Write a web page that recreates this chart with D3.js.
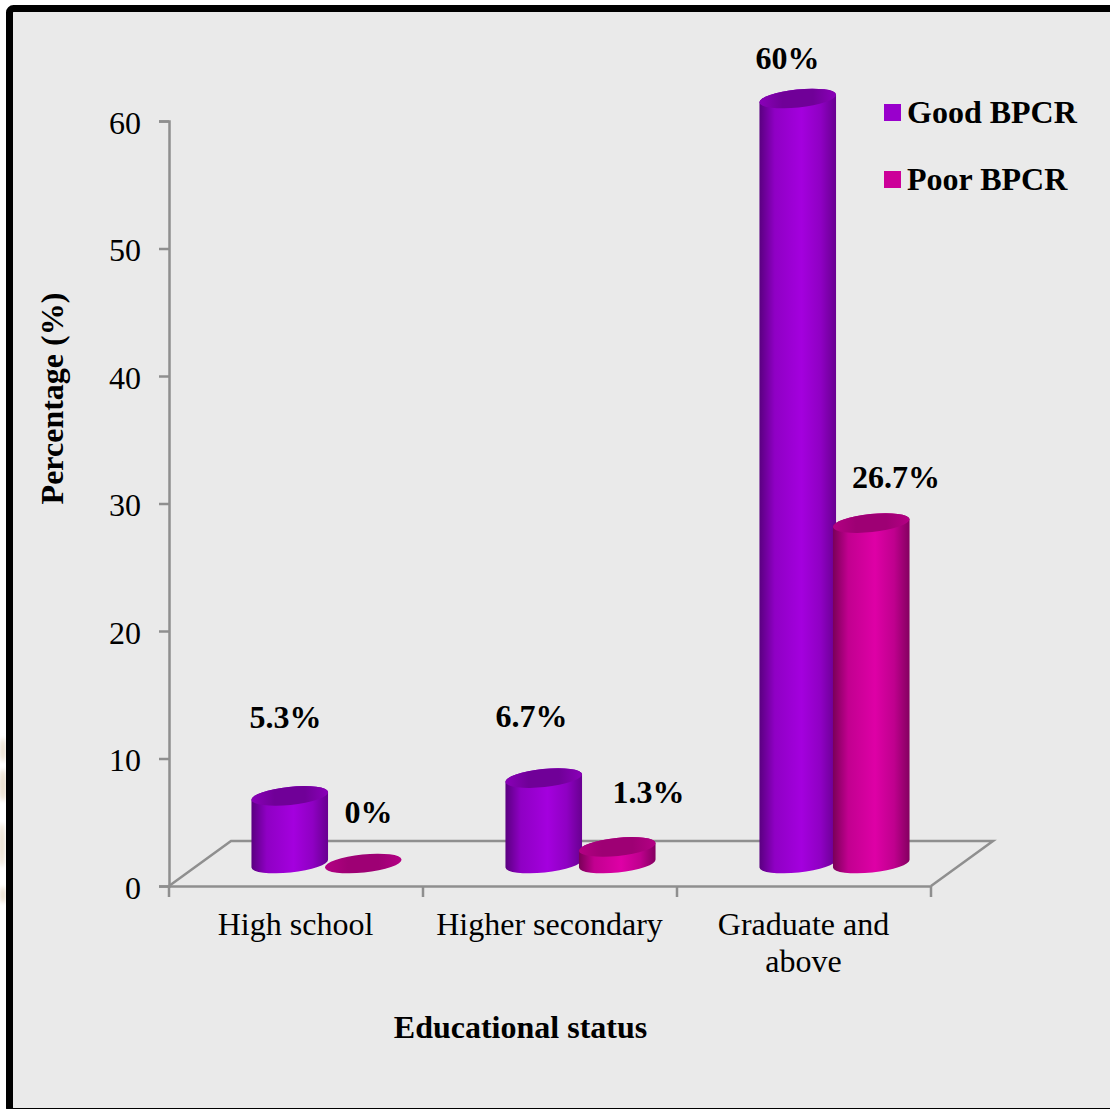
<!DOCTYPE html>
<html>
<head>
<meta charset="utf-8">
<script src="https://d3js.org/d3.v7.min.js"></script>
<style>
html,body{margin:0;padding:0;background:#fff;}
svg{display:block;}
text{font-family:"Liberation Serif",serif;fill:#000;}
</style>
</head>
<body>
<svg id="chart" width="1110" height="1109"></svg>
<script>
const categories = [["High school"], ["Higher secondary"], ["Graduate and", "above"]];
const seriesNames = ["Good BPCR", "Poor BPCR"];
const goodValues = [5.3, 6.7, 60];
const poorValues = [0, 1.3, 26.7];
const goodLabels = ["5.3%", "6.7%", "60%"];
const poorLabels = ["0%", "1.3%", "26.7%"];
const yTicks = [0, 10, 20, 30, 40, 50, 60];

const palette = {
  "Good BPCR": {key: "#9900cc", dark: "#5a0080", bright: "#a400de", darkRight: "#680090", cap: "#700098", capEdge: "#8a00b8"},
  "Poor BPCR": {key: "#cc0099", dark: "#7a0058", bright: "#de00a6", darkRight: "#840060", cap: "#9e0074", capEdge: "#b40084"}
};

const svg = d3.select("#chart");
const axisColor = "#8f8f8f";
const fontSize = 32;

// Faint backdrop specks left of the frame
const defs = svg.append("defs");
defs.append("filter").attr("id", "soft").append("feGaussianBlur").attr("stdDeviation", 2);
svg.append("g").attr("filter", "url(#soft)").attr("fill", "#eadfcf")
  .selectAll("ellipse").data([[3, 750, 3, 12], [3, 785, 4, 16], [2, 845, 3, 22], [3, 895, 3, 8]]).join("ellipse")
  .attr("cx", d => d[0]).attr("cy", d => d[1]).attr("rx", d => d[2]).attr("ry", d => d[3]);

// Panel and frame
svg.append("rect").attr("x", 9.5).attr("y", 8.5).attr("width", 1200).attr("height", 1103).attr("rx", 4)
  .attr("fill", "#eaeaea").attr("stroke", "#000").attr("stroke-width", 7);

const plot = {left: 169, right: 931, top: 121, bottom: 886};
const depth = {dx: 62, dy: -45};

const y = d3.scaleLinear().domain([0, 60]).range([plot.bottom, plot.top]);
const x = d3.scaleBand().domain(d3.range(categories.length)).range([plot.left, plot.right]);
const midBand = x.bandwidth() / 2 + depth.dx / 2;
const inner = d3.scaleBand().domain(seriesNames).range([midBand - 74, midBand + 73]);

// Floor of the 3D plot box
const floorPath = d3.path();
floorPath.moveTo(plot.left, plot.bottom);
floorPath.lineTo(plot.left + depth.dx, plot.bottom + depth.dy);
floorPath.lineTo(plot.right + depth.dx, plot.bottom + depth.dy);
floorPath.lineTo(plot.right, plot.bottom);
svg.append("path").attr("d", floorPath.toString()).attr("fill", "none")
  .attr("stroke", axisColor).attr("stroke-width", 2.5);

// Axes
const yAxis = d3.axisLeft(y).tickValues(yTicks).tickSize(10).tickPadding(18);
const xAxis = d3.axisBottom(x).tickValues([]).tickSizeOuter(0);
const gy = svg.append("g").attr("transform", `translate(${plot.left},0)`).call(yAxis);
gy.selectAll("path,line").attr("stroke", axisColor).attr("stroke-width", 2.5);
gy.selectAll("text").attr("font-size", fontSize).attr("fill", "#000").attr("dy", "0.38em");

const gx = svg.append("g").attr("transform", `translate(0,${plot.bottom})`).call(xAxis);
gx.selectAll("path").attr("stroke", axisColor).attr("stroke-width", 2.5);
gx.selectAll(".edge").data(d3.range(categories.length + 1)).join("line").attr("class", "edge")
  .attr("x1", i => plot.left + i * x.step()).attr("x2", i => plot.left + i * x.step())
  .attr("y1", 0).attr("y2", 11).attr("stroke", axisColor).attr("stroke-width", 2.5);

// Category labels
svg.selectAll(".cat").data(categories).join("text").attr("class", "cat")
  .attr("text-anchor", "middle").attr("font-size", fontSize)
  .each(function (lines, i) {
    d3.select(this).selectAll("tspan").data(lines).join("tspan")
      .attr("x", x(i) + x.bandwidth() / 2 - 0.5)
      .attr("y", (d, k) => 935 + k * 37)
      .text(d => d);
  });

// Cylinder shading
seriesNames.forEach(name => {
  const c = palette[name];
  const key = name.split(" ")[0];
  const g = defs.append("linearGradient").attr("id", "body-" + key)
    .attr("x1", "0%").attr("x2", "100%").attr("y1", "0%").attr("y2", "0%");
  [[0, c.dark], [0.2, d3.interpolateRgb(c.dark, c.bright)(0.72)], [0.55, c.bright], [0.8, d3.interpolateRgb(c.bright, c.darkRight)(0.35)], [1, c.darkRight]]
    .forEach(([o, col]) => g.append("stop").attr("offset", o).attr("stop-color", col));
  const h = defs.append("linearGradient").attr("id", "cap-" + key)
    .attr("x1", "0%").attr("x2", "100%").attr("y1", "0%").attr("y2", "0%");
  [[0, c.capEdge], [0.3, c.cap], [0.7, c.cap], [1, c.capEdge]]
    .forEach(([o, col]) => h.append("stop").attr("offset", o).attr("stop-color", col));
});

const rx = 38.5, ry = 9, tilt = -6;
const rad = tilt * Math.PI / 180;
const ex = rx * Math.cos(rad), ey = rx * Math.sin(rad);
const baseLift = depth.dy / 2;

function ellipsePath(cx, cy) {
  return `M${cx - ex},${cy - ey}A${rx},${ry} ${tilt} 1 1 ${cx + ex},${cy + ey}A${rx},${ry} ${tilt} 1 1 ${cx - ex},${cy - ey}Z`;
}
function bodyPath(cx, top, bottom) {
  return `M${cx - ex},${top - ey}A${rx},${ry} ${tilt} 1 1 ${cx + ex},${top + ey}L${cx + ex},${bottom + ey}A${rx},${ry} ${tilt} 1 1 ${cx - ex},${bottom - ey}Z`;
}

const seriesValues = [goodValues, poorValues];
seriesNames.forEach((name, s) => {
  const key = name.split(" ")[0];
  const g = svg.append("g");
  seriesValues[s].forEach((v, i) => {
    const cx = x(i) + inner(name) + inner.bandwidth() / 2;
    const top = y(v) + baseLift, bottom = y(0) + baseLift;
    if (v > 0) {
      g.append("path").attr("d", bodyPath(cx, top, bottom)).attr("fill", `url(#body-${key})`);
    }
    g.append("path").attr("d", ellipsePath(cx, top)).attr("fill", `url(#cap-${key})`);
  });
});

// Value labels
const labelSpots = [
  {text: goodLabels, xs: [285.5, 531.5, 787.5], ys: [728, 727, 69]},
  {text: poorLabels, xs: [368.5, 648.5, 896], ys: [823, 803, 488]}
];
labelSpots.forEach(spot => {
  spot.text.forEach((t, i) => {
    svg.append("text").attr("x", spot.xs[i]).attr("y", spot.ys[i]).attr("text-anchor", "middle")
      .attr("font-size", fontSize).attr("font-weight", "bold").text(t);
  });
});

// Axis titles
svg.append("text").attr("x", 520.5).attr("y", 1038).attr("text-anchor", "middle")
  .attr("font-size", fontSize).attr("font-weight", "bold").text("Educational status");
svg.append("text").attr("transform", "translate(63,398.5) rotate(-90)").attr("text-anchor", "middle")
  .attr("font-size", fontSize).attr("font-weight", "bold").text("Percentage (%)");

// Legend
seriesNames.forEach((name, i) => {
  const ly = [104, 171][i];
  svg.append("rect").attr("x", 884).attr("y", ly).attr("width", 17).attr("height", 17).attr("fill", palette[name].key);
  svg.append("text").attr("x", 907).attr("y", ly + 19).attr("font-size", fontSize).attr("font-weight", "bold").text(name);
});
</script>
</body>
</html>
